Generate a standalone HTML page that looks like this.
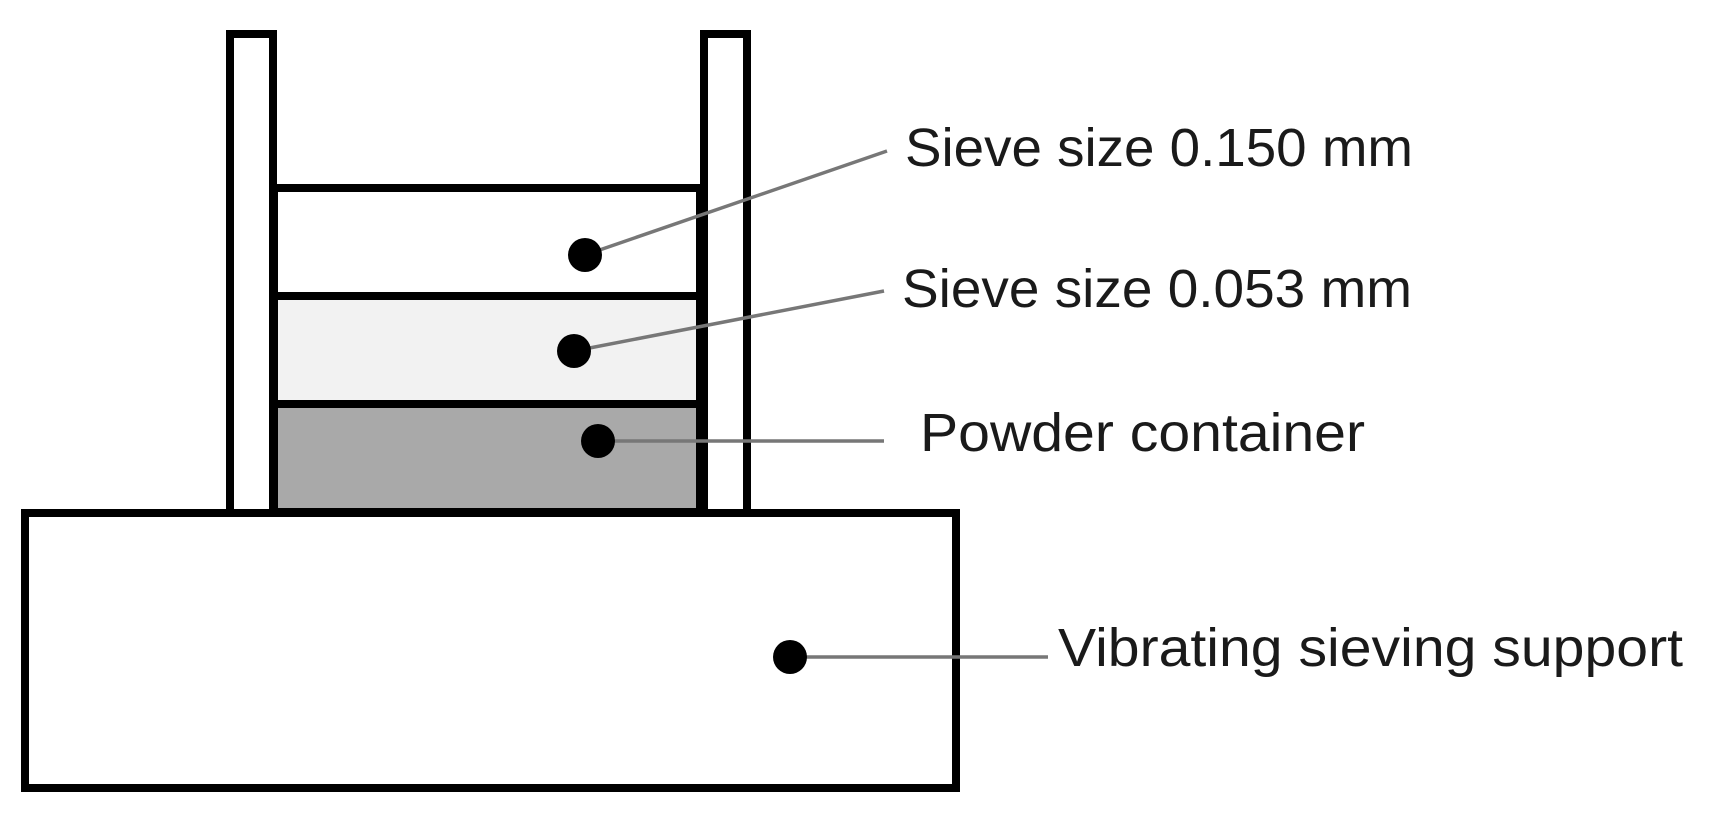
<!DOCTYPE html>
<html><head><meta charset="utf-8"><style>html,body{margin:0;padding:0;background:#fff}svg{display:block}</style></head>
<body>
<svg width="1721" height="813" viewBox="0 0 1721 813" xmlns="http://www.w3.org/2000/svg">
<rect width="1721" height="813" fill="#fff"/>
<g stroke="#000" stroke-width="8">
<rect x="230" y="34" width="43" height="479" fill="#fff"/>
<rect x="704" y="34" width="43" height="479" fill="#fff"/>
<rect x="274" y="188" width="426" height="108" fill="#fff"/>
<rect x="274" y="296" width="426" height="108" fill="#f2f2f2"/>
<rect x="274" y="404" width="426" height="108" fill="#a9a9a9"/>
<rect x="25" y="513" width="931" height="275" fill="#fff"/>
</g>
<g stroke="#777" stroke-width="3.5">
<line x1="585" y1="255" x2="887" y2="151"/>
<line x1="574" y1="351" x2="884" y2="291"/>
<line x1="598" y1="441" x2="884" y2="441"/>
<line x1="790" y1="657" x2="1048" y2="657"/>
</g>
<g fill="#000">
<circle cx="585" cy="255" r="17"/>
<circle cx="574" cy="351" r="17"/>
<circle cx="598" cy="441" r="17"/>
<circle cx="790" cy="657" r="17"/>
</g>
<g font-family="Liberation Sans, sans-serif" font-size="54" fill="#1a1a1a">
<text x="905" y="166" textLength="508" lengthAdjust="spacingAndGlyphs">Sieve size 0.150 mm</text>
<text x="902" y="307" textLength="510" lengthAdjust="spacingAndGlyphs">Sieve size 0.053 mm</text>
<text x="920" y="451" textLength="445" lengthAdjust="spacingAndGlyphs">Powder container</text>
<text x="1058" y="666" textLength="625" lengthAdjust="spacingAndGlyphs">Vibrating sieving support</text>
</g>
</svg>
</body></html>
